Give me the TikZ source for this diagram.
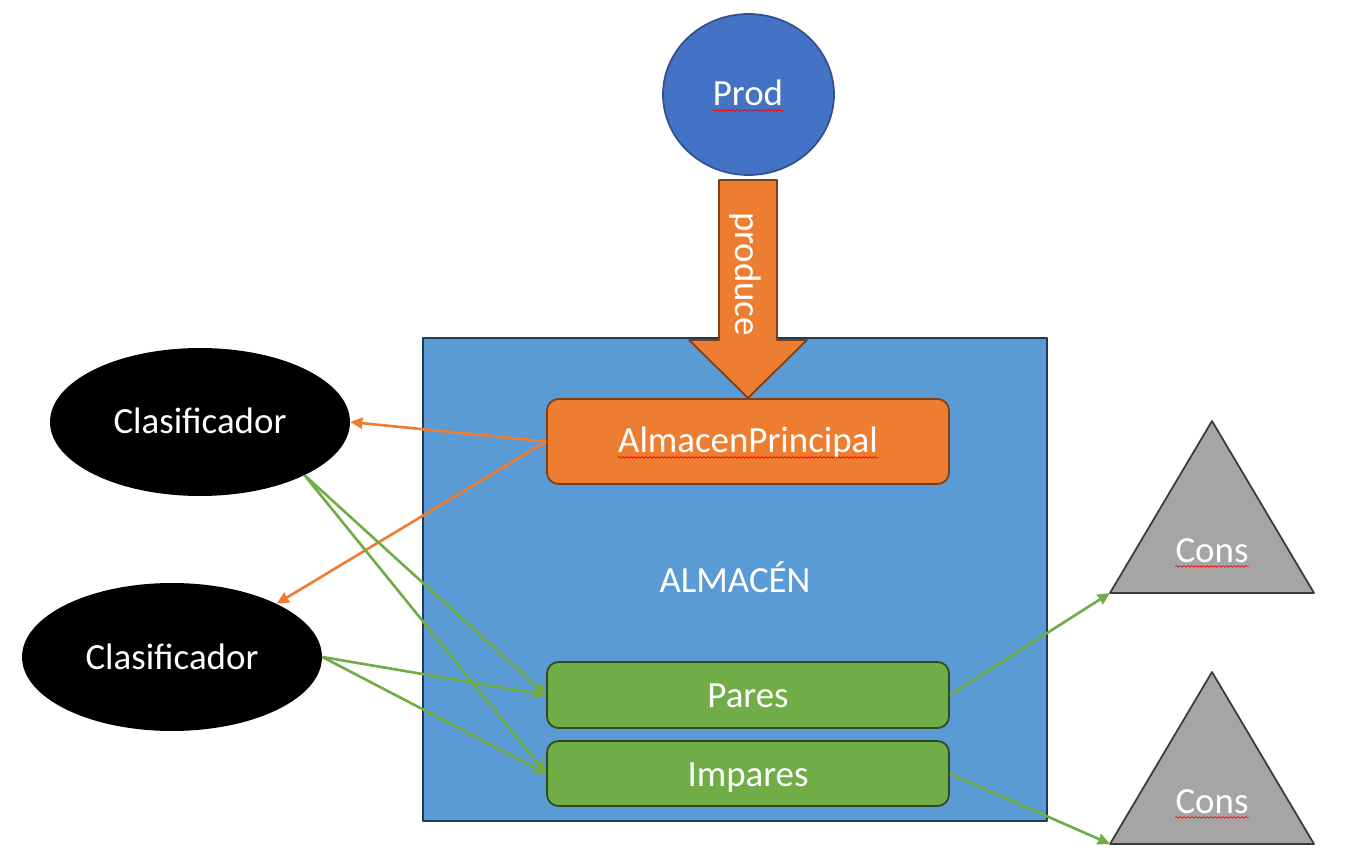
\documentclass[tikz,border=0pt]{standalone}
\usepackage{fontspec}
\setmainfont{Carlito}
\usetikzlibrary{shapes.geometric,decorations.pathmorphing,arrows.meta}
\definecolor{azul}{HTML}{4472C4}
\definecolor{azulborde}{HTML}{2F528F}
\definecolor{almazul}{HTML}{5B9BD5}
\definecolor{almborde}{HTML}{1F3A5A}
\definecolor{naranja}{HTML}{ED7D31}
\definecolor{naranjaborde}{HTML}{7F3F14}
\definecolor{verde}{HTML}{70AD47}
\definecolor{verdeborde}{HTML}{2E4A1C}
\definecolor{gris}{HTML}{A5A5A5}
\definecolor{grisborde}{HTML}{3A3A3A}
\begin{document}
\begin{tikzpicture}[x=0.02cm,y=-0.02cm,>={Stealth[inset=0.5pt,length=7pt,width=6.5pt]},line join=round,
	font=\fontsize{21}{25}\selectfont,
	caja/.style={draw,rounded corners=6.5pt,line width=1pt,minimum width=8.04cm},
	clasif/.style={ellipse,fill=black,minimum width=6cm,minimum height=2.96cm,inner sep=0pt},
	txt/.style={text=white,inner sep=0pt,anchor=base},
	spell/.style={red,line width=0.4pt,decorate,decoration={snake,amplitude=0.5pt,segment length=2.2pt}},
	flecha/.style={->,line width=1.5pt}]
	\useasboundingbox (0,0) rectangle (1352,864);
	% almacen
	\node[draw=almborde,fill=almazul,line width=1pt,minimum width=12.48cm,minimum height=9.66cm] (alm) at (735,579.5) {};
	\node[txt] (almt) at (735,592) {ALMACÉN};
	% productor
	\node[ellipse,draw=azulborde,fill=azul,line width=1pt,minimum width=3.42cm,minimum height=3.22cm] (prod) at (748.5,94.5) {};
	\node[txt] (prodt) at (748,106) {Prod};
	\draw[draw=naranjaborde,fill=naranja,line width=1pt] (719,180) -- (777,180) -- (777,340) -- (807,340) -- (748,398) -- (689,340) -- (719,340) -- cycle;
	\node[text=white,inner sep=0pt,rotate=-90] (prodarrow) at (745,274) {produce};
	% almacenes internos
	\node[caja,draw=naranjaborde,fill=naranja,minimum height=1.7cm] (ap) at (748,441.5) {};
	\node[txt] (apt) at (748,453) {AlmacenPrincipal};
	\node[caja,draw=verdeborde,fill=verde,minimum height=1.32cm] (pares) at (748,695) {};
	\node[txt] (parest) at (748,707) {Pares};
	\node[caja,draw=verdeborde,fill=verde,minimum height=1.3cm] (impares) at (748,773.5) {};
	\node[txt] (imparest) at (748,786) {Impares};
	% clasificadores
	\node[clasif] (cl1) at (200,422) {};
	\node[txt] at (200,434) {Clasificador};
	\node[clasif] (cl2) at (172,657) {};
	\node[txt] at (172,669) {Clasificador};
	% consumidores
	\foreach \i/\y in {1/421,2/672}
	{\draw[draw=grisborde,fill=gris,line width=1pt] (1212,\y) -- (1314,\y+172) -- (1110,\y+172) -- cycle;
		\coordinate (t\i) at (1110,\y+172);
		\node[txt] (cons\i t) at (1212,\y+141) {Cons};}
	% subrayado
	\foreach \n in {prodt,apt,cons1t,cons2t}
	\draw[spell] ([yshift=-2.5pt]\n.base west) -- ([yshift=-2.5pt]\n.base east);
	% flechas
	\draw[flecha,naranja] (ap.west) -- (cl1.east);
	\draw[flecha,naranja] (ap.west) -- (cl2.27);
	\foreach \d in {pares,impares}
	{\draw[flecha,verde] (cl1.-27) -- (\d.west);
		\draw[flecha,verde] (cl2.east) -- (\d.west);}
	\draw[flecha,verde] (pares.east) -- (t1);
	\draw[flecha,verde] (impares.east) -- (t2);
\end{tikzpicture}
\end{document}
